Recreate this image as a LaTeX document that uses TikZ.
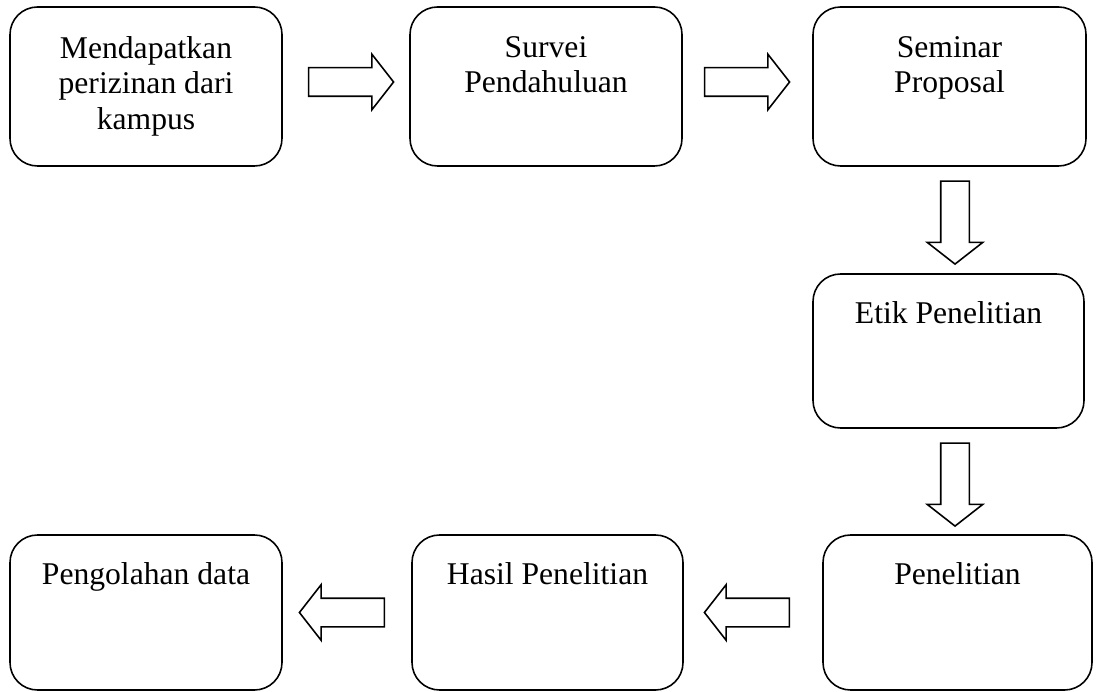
\documentclass[tikz,border=0pt]{standalone}
\usepackage{fontspec}
\setmainfont{Liberation Serif}
\usetikzlibrary{shapes.arrows,calc,positioning}

\tikzset{
  kotak/.style={draw, line width=0.9pt, rounded corners=0.55cm, minimum width=5.44cm, minimum height=3.18cm},
  teks/.style={align=center, inner sep=0pt, anchor=north, font=\fontsize{18}{20.2}\selectfont},
  panah/.style={draw, line width=0.9pt, single arrow, single arrow tip angle=104,
    single arrow head extend=0.27cm, single arrow head indent=0pt,
    inner xsep=0pt, inner ysep=0.27cm, minimum width=1pt, minimum height=1.7cm},
  panahbawah/.style={panah, shape border rotate=270, inner xsep=0.27cm, inner ysep=0pt, minimum height=1.66cm}
}

\begin{document}
\begin{tikzpicture}
  \useasboundingbox (0,0) rectangle (21.98,-13.84);
  % kotak
  \node[kotak] (izin) at (2.92,-1.73) {};
  \node[kotak] (survei) at (10.92,-1.73) {};
  \node[kotak, minimum width=5.46cm] (seminar) at (18.99,-1.73) {};
  \node[kotak, minimum width=5.42cm, minimum height=3.08cm] (etik) at (18.97,-7.02) {};
  \node[kotak, minimum width=5.38cm, minimum height=3.1cm] (penelitian) at (19.15,-12.25) {};
  \node[kotak, minimum width=5.42cm, minimum height=3.1cm] (hasil) at (10.95,-12.25) {};
  \node[kotak, minimum height=3.1cm] (olah) at (2.92,-12.25) {};
  % teks
  \node[teks] at ([yshift=-0.6cm]izin.north) {Mendapatkan\\perizinan dari\\kampus};
  \node[teks] at ([yshift=-0.6cm]survei.north) {Survei\\Pendahuluan};
  \node[teks] at ([yshift=-0.6cm]seminar.north) {Seminar\\Proposal};
  \node[teks] at ([yshift=-0.56cm]etik.north) {Etik Penelitian};
  \node[teks] at ([yshift=-0.56cm]penelitian.north) {Penelitian};
  \node[teks] at ([yshift=-0.56cm]hasil.north) {Hasil Penelitian};
  \node[teks] at ([yshift=-0.56cm]olah.north) {Pengolahan data};
  % panah
  \node[panah] (p1) at ([xshift=-0.01cm,yshift=0.09cm]$(izin.east)!0.5!(survei.west)$) {};
  \node[panah] (p2) at ([xshift=-0.12cm,yshift=0.09cm]$(survei.east)!0.5!(seminar.west)$) {};
  \node[panahbawah] (p3) at ([xshift=0.12cm,yshift=0.06cm]$(seminar.south)!0.5!(etik.north)$) {};
  \node[panahbawah] (p4) at ([xshift=0.04cm,yshift=0.05cm]$(etik.south)!0.5!(penelitian.north)$) {};
  \node[panah, shape border rotate=180] (p5) at ([xshift=-0.01cm]$(penelitian.west)!0.5!(hasil.east)$) {};
  \node[panah, shape border rotate=180] (p6) at ([xshift=0.01cm]$(hasil.west)!0.5!(olah.east)$) {};
\end{tikzpicture}
\end{document}
